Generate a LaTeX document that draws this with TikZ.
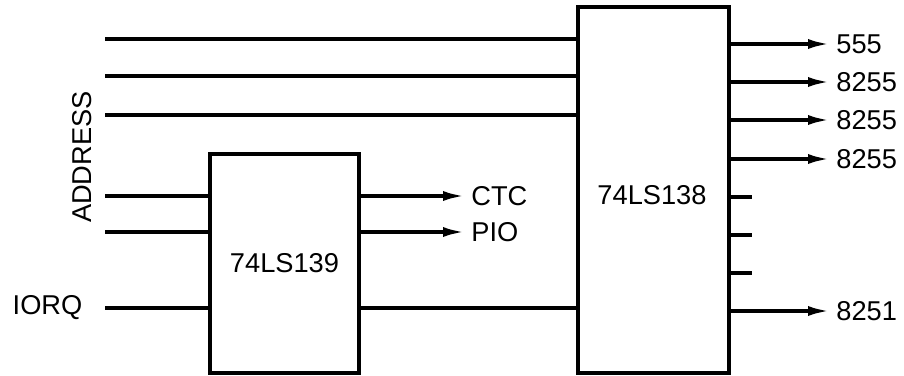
\documentclass[tikz,border=0pt]{standalone}
\usepackage{fontspec}
\setmainfont{Liberation Sans}
\usetikzlibrary{arrows.meta,positioning}
\tikzset{>={Latex[length=4.4mm,width=2mm]},every node/.style={font=\fontsize{15.5}{18}\selectfont},chip/.style={draw,line width=2pt,inner sep=0pt},wire/.style={line width=2pt},sig/.style={wire,->},lbl/.style={inner sep=0.12cm}}
\begin{document}
\begin{tikzpicture}
\useasboundingbox (0,0) rectangle (18.08,7.5);
\node[chip,minimum width=2.98cm,minimum height=4.38cm] (dec139) at (5.69,2.23) {74LS139};
\node[chip,minimum width=3.02cm,minimum height=7.32cm] (dec138) at (13.07,3.7) {};
\node (lbl138) at (13.04,3.6) {74LS138};
\coordinate (a1) at (2.1,6.72);\coordinate (a2) at (2.1,5.98);\coordinate (a3) at (2.1,5.2);
\coordinate (a4) at (2.1,3.58);\coordinate (a5) at (2.1,2.86);\coordinate (iorq) at (2.1,1.34);
\foreach \c in {a1,a2,a3} \draw[wire] (\c)--(\c -| dec138.west);
\foreach \c in {a4,a5,iorq} \draw[wire] (\c)--(\c -| dec139.west);
\draw[wire] (dec139.east |- iorq)--(iorq -| dec138.west);
\node[rotate=90] (addr) at (1.64,4.36) {ADDRESS};
\node[left=0.33cm of iorq] (iorqlbl) {IORQ};
\node[lbl,anchor=west] (ctc) at (9.3,3.58) {CTC};
\node[lbl,anchor=west] (pio) at (9.3,2.86) {PIO};
\foreach \n in {ctc,pio} \draw[sig] (dec139.east |- \n)--(\n);
\foreach \n/\y/\t in {o1/6.62/555,o2/5.86/8255,o3/5.1/8255,o4/4.32/8255,o5/1.28/8251}{
  \node[lbl,anchor=west] (\n) at (16.6,\y) {\t};
  \draw[sig] (dec138.east |- \n)--(\n);}
\foreach \y in {3.56,2.8,2.04} \draw[wire] (dec138.east |- 0,\y)--+(0.42,0);
\end{tikzpicture}
\end{document}
